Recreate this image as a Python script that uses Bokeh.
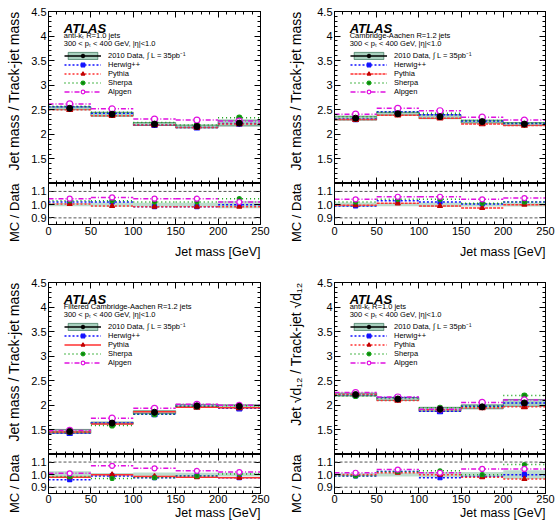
from bokeh.plotting import figure
from bokeh.models import (Range1d, LinearAxis, FixedTicker, Legend, LegendItem,
                          Label, Span, PrintfTickFormatter, CustomLabelingPolicy, Title)
from bokeh.layouts import row, column
from bokeh.embed import file_html
from bokeh.resources import INLINE

# ---------------- data ----------------
bin_edges = [0, 50, 100, 150, 200, 250]
x_major_ticks = [0, 50, 100, 150, 200, 250]
x_minor_ticks = [0, 10, 20, 30, 40, 50, 60, 70, 80, 90, 100, 110, 120, 130, 140, 150,
                 160, 170, 180, 190, 200, 210, 220, 230, 240, 250]
main_y_ticks = [1.5, 2.0, 2.5, 3.0, 3.5, 4.0, 4.5]
main_y_minor = [1.0, 1.1, 1.2, 1.3, 1.4, 1.5, 1.6, 1.7, 1.8, 1.9, 2.0, 2.1, 2.2, 2.3, 2.4,
                2.5, 2.6, 2.7, 2.8, 2.9, 3.0, 3.1, 3.2, 3.3, 3.4, 3.5, 3.6, 3.7, 3.8, 3.9,
                4.0, 4.1, 4.2, 4.3, 4.4, 4.5]
ratio_y_ticks = [0.9, 1.0, 1.1]
ratio_ref_lines = [0.9, 1.1]

# panel 1: anti-kt R=1.0, jet mass
akt_mass_data = [2.53, 2.41, 2.21, 2.16, 2.23]
akt_mass_err = [0.03, 0.04, 0.03, 0.03, 0.06]
akt_mass_herwig = [2.56, 2.43, 2.19, 2.14, 2.22]
akt_mass_pythia = [2.50, 2.38, 2.19, 2.14, 2.21]
akt_mass_sherpa = [2.57, 2.45, 2.24, 2.19, 2.34]
akt_mass_alpgen = [2.62, 2.52, 2.31, 2.29, 2.27]
akt_mass_herwig_ratio = [1.02, 1.02, 0.985, 0.985, 1.00]
akt_mass_pythia_ratio = [1.005, 0.99, 0.985, 0.985, 0.985]
akt_mass_sherpa_ratio = [1.03, 1.03, 1.02, 1.02, 1.045]
akt_mass_alpgen_ratio = [1.045, 1.055, 1.045, 1.045, 1.02]

# panel 2: Cambridge-Aachen R=1.2, jet mass
ca_mass_data = [2.33, 2.42, 2.36, 2.26, 2.21]
ca_mass_err = [0.04, 0.03, 0.04, 0.03, 0.03]
ca_mass_herwig = [2.31, 2.46, 2.40, 2.27, 2.22]
ca_mass_pythia = [2.30, 2.39, 2.33, 2.21, 2.18]
ca_mass_sherpa = [2.36, 2.45, 2.43, 2.28, 2.23]
ca_mass_alpgen = [2.41, 2.53, 2.48, 2.35, 2.29]
ca_mass_herwig_ratio = [0.99, 1.03, 1.02, 1.005, 1.02]
ca_mass_pythia_ratio = [0.995, 1.01, 0.99, 0.975, 1.00]
ca_mass_sherpa_ratio = [1.02, 1.04, 1.04, 1.01, 1.02]
ca_mass_alpgen_ratio = [1.04, 1.06, 1.06, 1.04, 1.05]

# panel 3: filtered Cambridge-Aachen R=1.2, jet mass
fca_mass_data = [1.47, 1.64, 1.86, 1.99, 1.98]
fca_mass_err = [0.04, 0.02, 0.03, 0.03, 0.03]
fca_mass_herwig = [1.44, 1.64, 1.82, 1.98, 1.94]
fca_mass_pythia = [1.46, 1.62, 1.87, 1.96, 1.95]
fca_mass_sherpa = [1.46, 1.59, 1.82, 1.98, 1.99]
fca_mass_alpgen = [1.49, 1.74, 1.94, 2.02, 2.00]
fca_mass_herwig_ratio = [0.96, 0.99, 0.975, 0.99, 0.975]
fca_mass_pythia_ratio = [0.98, 1.00, 0.985, 0.98, 0.975]
fca_mass_sherpa_ratio = [0.985, 0.97, 0.975, 0.99, 1.005]
fca_mass_alpgen_ratio = [1.01, 1.07, 1.05, 1.03, 1.02]

# panel 4: anti-kt R=1.0, sqrt(d12)
akt_d12_data = [2.22, 2.13, 1.92, 1.97, 2.05]
akt_d12_err = [0.03, 0.03, 0.04, 0.04, 0.07]
akt_d12_herwig = [2.21, 2.16, 1.88, 1.98, 2.05]
akt_d12_pythia = [2.22, 2.10, 1.91, 1.95, 1.97]
akt_d12_sherpa = [2.19, 2.15, 1.95, 1.98, 2.20]
akt_d12_alpgen = [2.26, 2.17, 1.92, 2.06, 2.11]
akt_d12_herwig_ratio = [0.99, 1.025, 0.975, 0.985, 1.00]
akt_d12_pythia_ratio = [1.00, 1.015, 1.00, 0.98, 0.965]
akt_d12_sherpa_ratio = [0.99, 1.025, 1.03, 1.00, 1.08]
akt_d12_alpgen_ratio = [1.015, 1.04, 1.015, 1.045, 1.045]

mc_names = ["Herwig++", "Pythia", "Sherpa", "Alpgen"]
data_label = "2010 Data, \u222b L = 35pb\u207b\u00b9"

# ---------------- style ----------------
FONT = "Liberation Sans"
PANEL_W = 279
MAIN_H = 183
MAIN_Y = (1.0, 4.5)
RATIO_Y = (0.85, 1.16)
MC_STYLE = {
    "Herwig++": dict(color="#1010ff", dash="2 2", marker="square", fill="#1010ff", msize=5),
    "Pythia": dict(color="#ff3030", dash="2 1", marker="triangle", fill="#c00000", msize=6),
    "Sherpa": dict(color="#10a010", dash="1 3", marker="circle", fill="#108010", msize=5),
    "Alpgen": dict(color="#e010e0", dash="5 2 1 2", marker="circle", fill="white", msize=6),
}
BAND_FILL = "#3f9a70"
BAND_LINE = "#1d5e40"


def style_axis(ax, ticker, labels, fmt=None, size="11px", standoff=2):
    ax.ticker = ticker
    ax.major_tick_in = 6
    ax.major_tick_out = 0
    ax.minor_tick_in = 3
    ax.minor_tick_out = 0
    ax.axis_line_color = "black"
    ax.major_tick_line_color = "black"
    ax.minor_tick_line_color = "black"
    if fmt is not None:
        ax.formatter = fmt
    if labels:
        ax.major_label_text_font = FONT
        ax.major_label_text_font_size = size
        ax.major_label_text_color = "black"
        ax.major_label_standoff = standoff
    else:
        ax.major_label_text_font_size = "0px"
        ax.major_label_standoff = 0
        ax.major_label_policy = CustomLabelingPolicy(code="return []")


def side_title(text, size, standoff, valign):
    return Title(text=text, align="right", vertical_align=valign, standoff=standoff,
                 text_font=FONT, text_font_size=size, text_font_style="normal",
                 text_color="black")


def build_panel(data, err, mc_vals, mc_ratio, sample, ylabel, left, right,
                bottom_row, pythia_dash, ytitle_standoff):
    centers = [(a + b) / 2 for a, b in zip(bin_edges[:-1], bin_edges[1:])]
    lo = [d - e for d, e in zip(data, err)]
    hi = [d + e for d, e in zip(data, err)]

    p = figure(width=PANEL_W, height=MAIN_H, x_range=Range1d(0, 250),
               y_range=Range1d(*MAIN_Y), output_backend="svg", toolbar_location=None,
               x_axis_location=None, y_axis_location=None,
               min_border_left=left, min_border_right=right, min_border_top=11,
               min_border_bottom=0)
    p.grid.visible = False
    p.outline_line_color = "black"
    p.background_fill_color = "white"
    p.border_fill_color = "white"

    ax_l = LinearAxis()
    style_axis(ax_l, FixedTicker(ticks=main_y_ticks, minor_ticks=main_y_minor), True,
               PrintfTickFormatter(format="%g"))
    p.add_layout(ax_l, "left")
    ax_r = LinearAxis()
    style_axis(ax_r, FixedTicker(ticks=main_y_ticks, minor_ticks=main_y_minor), False)
    p.add_layout(ax_r, "right")
    ax_t = LinearAxis()
    style_axis(ax_t, FixedTicker(ticks=x_major_ticks, minor_ticks=x_minor_ticks), False)
    p.add_layout(ax_t, "above")
    ax_b = LinearAxis()
    style_axis(ax_b, FixedTicker(ticks=x_major_ticks, minor_ticks=x_minor_ticks), False)
    p.add_layout(ax_b, "below")
    p.add_layout(side_title(ylabel, "14px", ytitle_standoff, "top"), "left")

    band = p.quad(left=bin_edges[:-1], right=bin_edges[1:], bottom=lo, top=hi,
                  fill_color=BAND_FILL, fill_alpha=0.45, line_color=BAND_LINE,
                  line_alpha=0.6, line_width=1)
    errbar = p.segment(x0=centers, x1=centers, y0=lo, y1=hi, line_color="black",
                       line_width=1.5)

    items = []
    mc_renderers = []
    for name in mc_names:
        st = MC_STYLE[name]
        dash = pythia_dash if name == "Pythia" else st["dash"]
        seg = p.segment(x0=bin_edges[:-1], x1=bin_edges[1:], y0=mc_vals[name],
                        y1=mc_vals[name], line_color=st["color"], line_width=1.5,
                        line_dash=dash)
        mk = p.scatter(x=centers, y=mc_vals[name], marker=st["marker"], size=st["msize"],
                       line_color=st["color"] if name != "Pythia" else st["fill"],
                       fill_color=st["fill"], line_width=1.2)
        mc_renderers.append((name, seg, mk))

    pts = p.scatter(x=centers, y=data, marker="circle", size=6, color="black")

    items.append(LegendItem(label=data_label, renderers=[band, errbar, pts]))
    for name, seg, mk in mc_renderers:
        items.append(LegendItem(label=name, renderers=[seg, mk]))
    leg = Legend(items=items, location=(16, 87), padding=0, margin=0, spacing=0,
                 glyph_width=37, glyph_height=9, label_height=9, label_standoff=7,
                 label_text_font=FONT, label_text_font_size="7.5px",
                 label_text_color="black", border_line_alpha=0,
                 background_fill_alpha=0)
    p.add_layout(leg)

    p.add_layout(Label(x=18, y=4.154, text="ATLAS", text_font=FONT,
                       text_font_size="13px", text_font_style="bold italic",
                       text_baseline="alphabetic", text_color="black"))
    p.add_layout(Label(x=18, y=4.01, text=sample, text_font=FONT,
                       text_font_size="7.5px", text_baseline="middle",
                       text_color="black"))
    p.add_layout(Label(x=18, y=3.84,
                       text="300 < p\u209c < 400 GeV, |\u03b7|<1.0", text_font=FONT,
                       text_font_size="7.5px", text_baseline="middle",
                       text_color="black"))

    # ratio pad
    if bottom_row:
        rh, frame_h, tick_standoff, xt_standoff = 69, 39, 1, 0
    else:
        rh, frame_h, tick_standoff, xt_standoff = 88, 41, 2, 14
    r = figure(width=PANEL_W, height=rh, x_range=p.x_range,
               y_range=Range1d(*RATIO_Y), output_backend="svg", toolbar_location=None,
               x_axis_location=None, y_axis_location=None,
               min_border_left=left, min_border_right=right, min_border_top=0,
               min_border_bottom=rh - frame_h)
    r.grid.visible = False
    r.outline_line_color = "black"
    r.background_fill_color = "white"
    r.border_fill_color = "white"

    rl = LinearAxis()
    style_axis(rl, FixedTicker(ticks=ratio_y_ticks, minor_ticks=[]), True,
               PrintfTickFormatter(format="%.1f"))
    r.add_layout(rl, "left")
    rr = LinearAxis()
    style_axis(rr, FixedTicker(ticks=ratio_y_ticks, minor_ticks=[]), False)
    r.add_layout(rr, "right")
    rt = LinearAxis()
    style_axis(rt, FixedTicker(ticks=x_major_ticks, minor_ticks=x_minor_ticks), False)
    r.add_layout(rt, "above")
    rbx = LinearAxis()
    style_axis(rbx, FixedTicker(ticks=x_major_ticks, minor_ticks=x_minor_ticks), True,
               standoff=tick_standoff)
    r.add_layout(rbx, "below")
    r.add_layout(side_title("MC / Data", "13px", ytitle_standoff, "top"), "left")
    r.add_layout(side_title("Jet mass [GeV]", "12.5px", xt_standoff, "top"), "below")

    for v in ratio_ref_lines:
        r.add_layout(Span(location=v, dimension="width", line_color="#555555",
                          line_dash="3 2", line_width=1))
    rlo = [1 - e / d for d, e in zip(data, err)]
    rhi = [1 + e / d for d, e in zip(data, err)]
    r.quad(left=bin_edges[:-1], right=bin_edges[1:], bottom=rlo, top=rhi,
           fill_color=BAND_FILL, fill_alpha=0.35, line_alpha=0)
    for name in mc_names:
        st = MC_STYLE[name]
        dash = pythia_dash if name == "Pythia" else st["dash"]
        r.segment(x0=bin_edges[:-1], x1=bin_edges[1:], y0=mc_ratio[name],
                  y1=mc_ratio[name], line_color=st["color"], line_width=1.5,
                  line_dash=dash)
        r.scatter(x=centers, y=mc_ratio[name], marker=st["marker"],
                  size=st["msize"] - 1,
                  line_color=st["color"] if name != "Pythia" else st["fill"],
                  fill_color=st["fill"], line_width=1.2)
    return column(p, r)


def pack(h, py, sh, al):
    return {"Herwig++": h, "Pythia": py, "Sherpa": sh, "Alpgen": al}


mass_label = "Jet mass / Track-jet mass"
d12_label = "Jet \u221ad\u2081\u2082 / Track-jet \u221ad\u2081\u2082"

c1 = build_panel(akt_mass_data, akt_mass_err,
                 pack(akt_mass_herwig, akt_mass_pythia, akt_mass_sherpa, akt_mass_alpgen),
                 pack(akt_mass_herwig_ratio, akt_mass_pythia_ratio, akt_mass_sherpa_ratio,
                      akt_mass_alpgen_ratio),
                 "anti-k\u209c R=1.0 jets", mass_label, 46, 19, False, "2 2", 10)
c2 = build_panel(ca_mass_data, ca_mass_err,
                 pack(ca_mass_herwig, ca_mass_pythia, ca_mass_sherpa, ca_mass_alpgen),
                 pack(ca_mass_herwig_ratio, ca_mass_pythia_ratio, ca_mass_sherpa_ratio,
                      ca_mass_alpgen_ratio),
                 "Cambridge-Aachen R=1.2 jets", mass_label, 53, 13, False, "3 1", 17)
c3 = build_panel(fca_mass_data, fca_mass_err,
                 pack(fca_mass_herwig, fca_mass_pythia, fca_mass_sherpa, fca_mass_alpgen),
                 pack(fca_mass_herwig_ratio, fca_mass_pythia_ratio, fca_mass_sherpa_ratio,
                      fca_mass_alpgen_ratio),
                 "Filtered Cambridge-Aachen R=1.2 jets", mass_label, 46, 19, True, "solid",
                 10)
c4 = build_panel(akt_d12_data, akt_d12_err,
                 pack(akt_d12_herwig, akt_d12_pythia, akt_d12_sherpa, akt_d12_alpgen),
                 pack(akt_d12_herwig_ratio, akt_d12_pythia_ratio, akt_d12_sherpa_ratio,
                      akt_d12_alpgen_ratio),
                 "anti-k\u209c R=1.0 jets", d12_label, 53, 13, True, "2 2", 17)

layout = column(row(c1, c2), row(c3, c4))
open("out.html", "w").write(file_html(layout, INLINE))
